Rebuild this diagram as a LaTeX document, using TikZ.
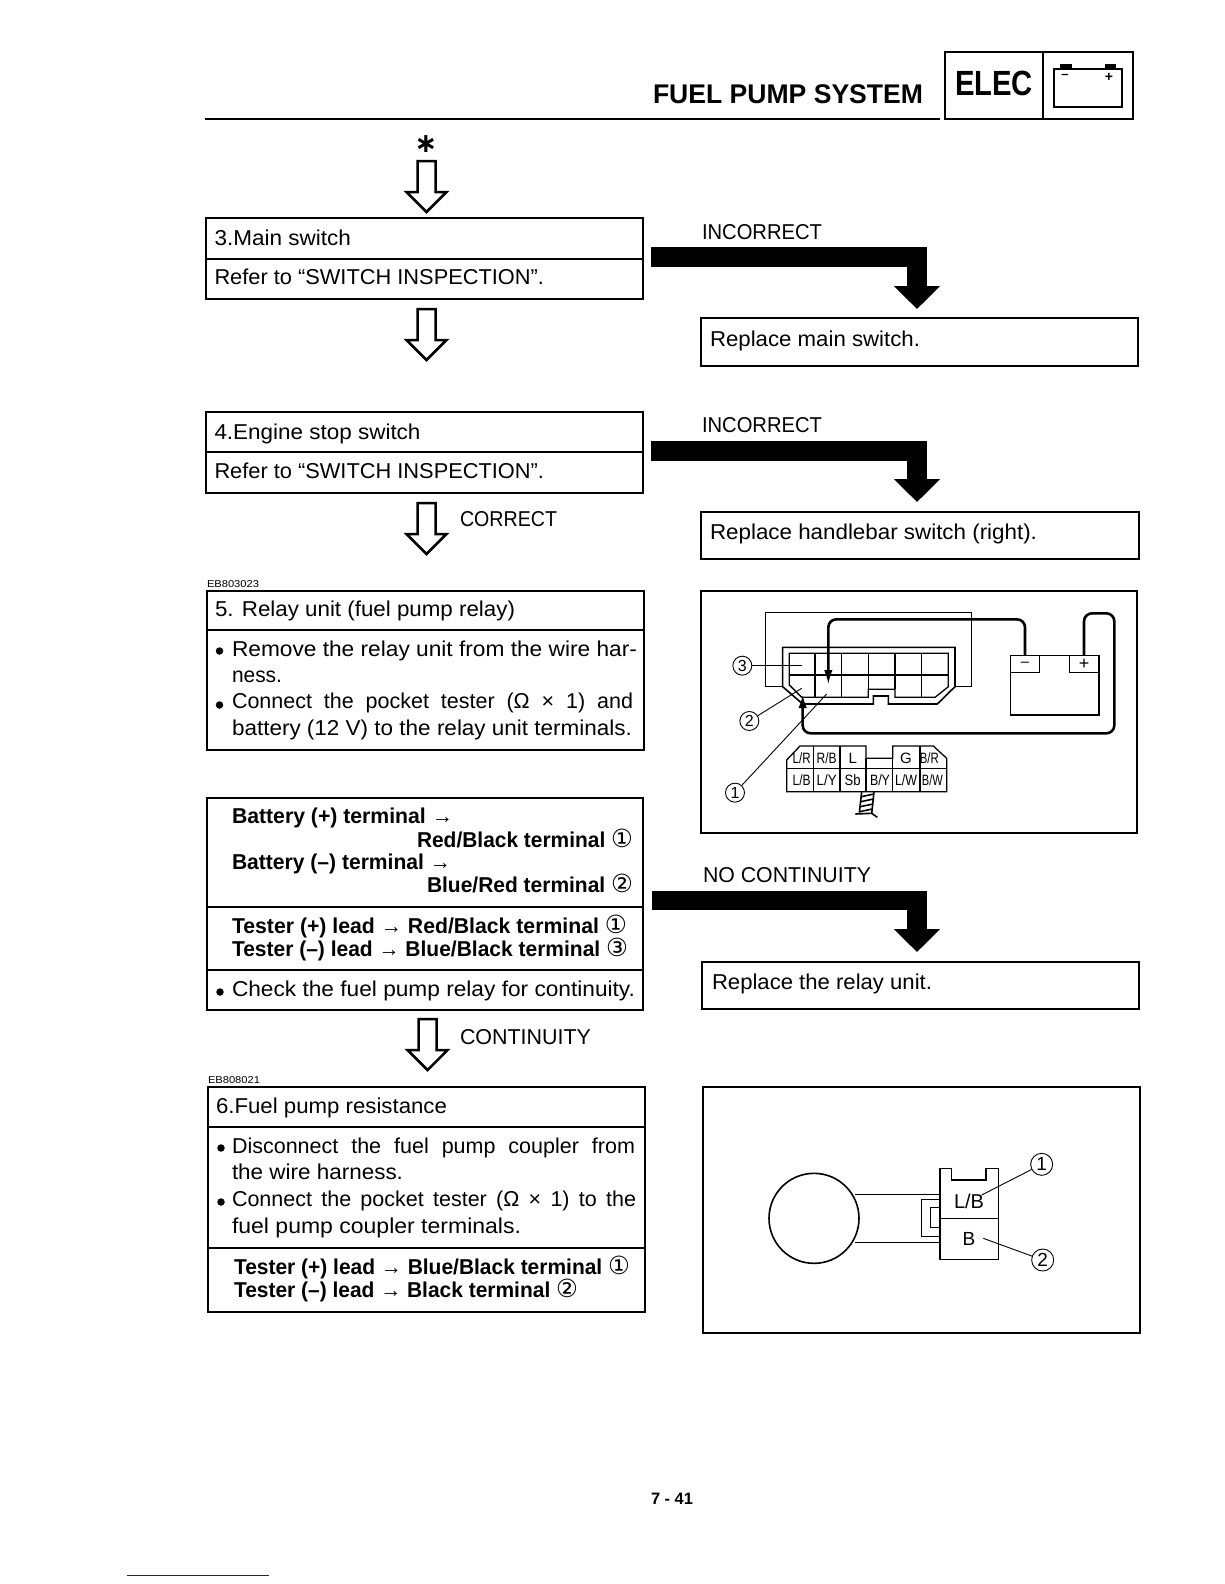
\documentclass[tikz,border=0pt]{standalone}
\usepackage{fontspec}
\usepackage{graphicx}
\setmainfont{Liberation Sans}
\newfontfamily\djv{DejaVu Sans}
\usetikzlibrary{arrows.meta}
\newcommand\ca{{\mdseries →}}
\newcommand\cdig[1]{{\mdseries\fontsize{25}{25}\selectfont\djv #1}}
\newcommand\cone{\cdig{①}}
\newcommand\ctwo{\cdig{②}}
\newcommand\cthr{\cdig{③}}
% text line fitted to a measured width: style, name, x, baseline y, width, text
\newcommand\lbl[6]{\node[#1] (#2) at (#3,#4) {\resizebox{#5pt}{\height}{#6}};}
% box from corners
\newcommand\boxn[6][boxo]{\node[#1,minimum width={(#5-#3)*1pt},minimum height={(#6-#4)*1pt}] (#2) at ({(#3+#5)/2},{(#4+#6)/2}) {};}
% divider below top of a box
\newcommand\dvd[3][divthin]{\draw[#1] ([yshift=-#3pt]#2.north west) -- ([yshift=-#3pt]#2.north east);}
% hollow block arrow
\newcommand\hollowar[3]{\coordinate (#1) at (#2,#3);
 \draw[hollow] (#1) ++(-9,0) -- ++(18,0) -- ++(0,31) -- ++(11,0) -- ++(-20,20) -- ++(-20,-20) -- ++(11,0) -- cycle;}
\tikzset{
 boxo/.style={draw=black,line width=2.6pt,inner sep=0pt,outer sep=0pt,rectangle},
 divthin/.style={line width=1.1pt,black},
 divthick/.style={line width=2.6pt,black},
 hollow/.style={draw=black,line width=2.5pt,fill=white,line join=miter},
 blockar/.style={line width=19.5pt,black,line join=miter,-{Triangle[length=23pt,width=45pt]}},
 txbase/.style={anchor=base west,inner sep=0pt,outer sep=0pt,text=black},
 txbody/.style={txbase,font=\fontsize{21.5}{25}\selectfont},
 txbold/.style={txbase,font=\fontsize{21.5}{25}\selectfont\bfseries},
 txhead/.style={txbase,font=\fontsize{27}{30}\selectfont\bfseries},
 txelec/.style={txbase,font=\fontsize{35}{38}\selectfont\bfseries},
 txtiny/.style={txbase,font=\fontsize{10}{11}\selectfont},
 txpage/.style={txbase,font=\fontsize{16.5}{19}\selectfont\bfseries},
 bul/.style={circle,fill=black,inner sep=0pt,minimum size=7.5pt},
 ccl/.style={circle,draw=black,line width=.9pt,inner sep=0pt,minimum size=19pt,font=\fontsize{16}{16}\selectfont,fill=white},
 cclb/.style={circle,draw=black,line width=.9pt,inner sep=0pt,minimum size=22pt,font=\fontsize{19}{19}\selectfont,fill=white},
 cell/.style={inner sep=0pt,font=\fontsize{15}{16}\selectfont},
 thinl/.style={line width=.9pt,black},
 medl/.style={line width=1.3pt,black},
 wire/.style={line width=2.6pt,black,rounded corners=8pt},
}
\begin{document}
\begin{tikzpicture}[x=1pt,y=-1pt]
\useasboundingbox[fill=white] (0,0) rectangle (1224,1584);

% header
\draw[line width=2.6pt] (205,119) coordinate (hl) -- (940,119) coordinate (hr);
\lbl{txhead}{thd}{653}{103}{270}{FUEL PUMP SYSTEM}
\boxn{helec}{945}{52}{1043}{119}
\boxn{hbat}{1043}{52}{1133}{119}
\lbl{txelec}{telec}{955}{96}{78}{ELEC}
\boxn[draw=black,line width=1.1pt,inner sep=0pt,outer sep=0pt]{hicon}{1054}{69}{1122}{107}
\fill (1060,64) rectangle (1072,69);
\fill (1105,64) rectangle (1116,69);
\node[inner sep=0pt,font=\fontsize{13}{14}\selectfont\bfseries] (hm) at (1065,76) {–};
\node[inner sep=0pt,font=\fontsize{14}{14}\selectfont\bfseries] (hp) at (1109,77) {+};

% left column boxes
\boxn{b3}{206}{218}{643}{299}
\dvd{b3}{41}
\boxn{b4}{206}{412}{643}{493}
\dvd{b4}{40}
\boxn{b5}{207}{591}{644}{750}
\dvd{b5}{39}
\boxn{b55}{207}{798}{643}{1010}
\dvd[divthick]{b55}{109}
\dvd[divthick]{b55}{172}
\boxn{b6}{208}{1087}{645}{1312}
\dvd{b6}{40}
\dvd[divthick]{b6}{161}

% right column boxes
\boxn{r3}{701}{318}{1138}{366}
\boxn{r4}{701}{512}{1139}{559}
\boxn{r5}{702}{962}{1139}{1009}
\boxn{im1}{701}{591}{1137}{833}
\boxn{im2}{703}{1087}{1140}{1333}

% hollow arrows
\node[inner sep=0pt,font=\fontsize{27}{27}\selectfont\bfseries\djv] (star) at (426,144) {∗};
\hollowar{ha1}{426.5}{161}
\hollowar{ha2}{426.5}{309}
\hollowar{ha3}{426.5}{503}
\hollowar{ha4}{427.5}{1019}

% black connectors
\coordinate (bs1) at (651,257);
\coordinate (be1) at (917,309);
\draw[blockar] (bs1) -| (be1);
\coordinate (bs2) at (651,451);
\coordinate (be2) at (917,502);
\draw[blockar] (bs2) -| (be2);
\coordinate (bs3) at (652,900.5);
\coordinate (be3) at (917,952);
\draw[blockar] (bs3) -| (be3);

% texts, box 3 and 4
\lbl{txbody}{t3a}{214.5}{245}{136.5}{3.Main switch}
\lbl{txbody}{t3b}{214.5}{284}{329.5}{Refer to “SWITCH INSPECTION”.}
\lbl{txbody}{t4a}{214.5}{439}{206}{4.Engine stop switch}
\lbl{txbody}{t4b}{214.5}{478}{329.5}{Refer to “SWITCH INSPECTION”.}
\lbl{txbody}{tcor}{460}{526}{97}{CORRECT}
\lbl{txbody}{tcon}{460}{1044}{131}{CONTINUITY}
\lbl{txbody}{ti1}{702}{239}{120}{INCORRECT}
\lbl{txbody}{ti2}{702}{432}{120}{INCORRECT}
\lbl{txbody}{ti3}{703}{882}{168}{NO CONTINUITY}
\lbl{txbody}{tr3}{710}{346}{210}{Replace main switch.}
\lbl{txbody}{tr4}{710}{539}{327}{Replace handlebar switch (right).}
\lbl{txbody}{tr5}{712}{989}{220}{Replace the relay unit.}

% box 5
\lbl{txtiny}{ec1}{207}{587}{52}{EB803023}
\lbl{txbody}{t5a}{215}{616}{300}{5. Relay unit (fuel pump relay)}
\node[bul] (b5a) at (219.5,651) {};
\lbl{txbody}{t5b}{232}{656}{405}{Remove the relay unit from the wire har-}
\lbl{txbody}{t5c}{232}{682}{50}{ness.}
\node[bul] (b5b) at (219.5,705) {};
\node[txbody] (t5d) at (232,708) {\makebox[401pt][s]{Connect the pocket tester (Ω × 1) and}};
\lbl{txbody}{t5e}{232}{735}{400}{battery (12 V) to the relay unit terminals.}

% box 5 specs
\lbl{txbold}{s1}{232}{823}{221}{Battery (+) terminal \ca}
\lbl{txbold}{s2}{417}{847}{216}{Red/Black terminal \cone}
\lbl{txbold}{s3}{232}{869}{219}{Battery (–) terminal \ca}
\lbl{txbold}{s4}{427}{892}{206}{Blue/Red terminal \ctwo}
\lbl{txbold}{s5}{232}{933}{395}{Tester (+) lead \ca{} Red/Black terminal \cone}
\lbl{txbold}{s6}{232}{956}{396}{Tester (–) lead \ca{} Blue/Black terminal \cthr}
\node[bul] (b55a) at (220,992) {};
\lbl{txbody}{s7}{232}{996}{403}{Check the fuel pump relay for continuity.}

% box 6
\lbl{txtiny}{ec2}{208}{1083}{52}{EB808021}
\lbl{txbody}{t6a}{216}{1113}{231}{6.Fuel pump resistance}
\node[bul] (b6a) at (221,1148) {};
\node[txbody] (t6b) at (232,1153) {\makebox[403pt][s]{Disconnect the fuel pump coupler from}};
\lbl{txbody}{t6c}{232}{1179}{171}{the wire harness.}
\node[bul] (b6b) at (221,1202) {};
\node[txbody] (t6d) at (232,1206) {\makebox[404pt][s]{Connect the pocket tester (Ω × 1) to the}};
\lbl{txbody}{t6e}{232}{1233}{289}{fuel pump coupler terminals.}
\lbl{txbold}{s8}{234}{1274}{396}{Tester (+) lead \ca{} Blue/Black terminal \cone}
\lbl{txbold}{s9}{234}{1297}{344}{Tester (–) lead \ca{} Black terminal \ctwo}

% page number and bottom rule
\lbl{txpage}{tpg}{651}{1504}{42}{7 - 41}
\draw[line width=1pt,color={rgb,255:red,20;green,30;blue,140}] (127,1575) coordinate (bl1) -- (269,1575) coordinate (bl2);

% relay diagram
\begin{scope}[shift={(700,590)},x=0.33333pt,y=-0.33333pt]
 \draw[medl] (245,290) -- (197,290) -- (197,68) -- (815,68) -- (815,290) -- (765,290);
 \draw[line width=1.6pt,fill=white] (248,172) -- (765,172) -- (765,290) -- (712,342) -- (565,342) -- (565,318) -- (520,318) -- (520,342) -- (308,342) -- (248,290) -- cycle;
 \draw[medl] (268,190) -- (745,190) -- (745,290) -- (705,322) -- (585,322) -- (585,298) -- (505,298) -- (505,322) -- (305,322) -- (268,285) -- cycle;
 \draw[medl] (268,255) -- (745,255);
 \draw[medl] (345,190) -- (345,322) (425,190) -- (425,322) (505,190) -- (505,298) (585,190) -- (585,298) (665,190) -- (665,322);
 % battery
 \draw[medl] (932,197) rectangle (1197,375);
 \node[draw=black,line width=1.3pt,minimum width=28.7pt,minimum height=16.7pt,inner sep=0pt,font=\fontsize{15}{15}\selectfont] (tm) at (975,222) {–};
 \node[draw=black,line width=1.3pt,minimum width=29.7pt,minimum height=16.7pt,inner sep=0pt,font=\fontsize{18}{18}\selectfont] (tp) at (1152,222) {+};
 % wires
 \coordinate (w1) at (385,285);
 \coordinate (w2) at (308,312);
 \draw[wire,-{Latex[length=15pt,width=8.5pt]}] (tm.north) -- (975,88) -- (385,88) -- (w1);
 \draw[wire,-{Latex[length=14pt,width=8.5pt]}] (tp.north) -- (1152,70) -- (1243,70) -- (1243,430) -- (308,430) -- (w2);
 % callouts
 \node[ccl] (c3) at (127,227) {3};
 \node[ccl] (c2) at (148,393) {2};
 \node[ccl] (c1) at (105,608) {1};
 \coordinate (p3) at (305,227);
 \coordinate (p2) at (305,295);
 \coordinate (p1) at (380,312);
 \draw[thinl] (c3) -- (p3);
 \draw[thinl] (c2) -- (p2);
 \draw[thinl] (c1) -- (p1);
 % terminal table
 \draw[medl] (260,510) -- (300,468) -- (498,468) -- (498,505) -- (578,505) -- (578,468) -- (700,468) -- (740,505) -- (740,605) -- (260,605) -- cycle;
 \draw[medl] (260,535) -- (740,535);
 \draw[medl] (340,468) -- (340,605) (420,468) -- (420,605) (498,505) -- (498,605) (578,505) -- (578,605) (660,468) -- (660,605);
 \node[cell] (ca) at (305,505) {\resizebox{18pt}{\height}{L/R}};
 \node[cell] (cb) at (380,505) {\resizebox{20pt}{\height}{R/B}};
 \node[cell] (cc) at (458,505) {L};
 \node[cell] (cd) at (618,505) {G};
 \node[cell] (ce) at (688,505) {\resizebox{19pt}{\height}{B/R}};
 \node[cell] (cf) at (305,570) {\resizebox{18pt}{\height}{L/B}};
 \node[cell] (cg) at (380,570) {\resizebox{20pt}{\height}{L/Y}};
 \node[cell] (ch) at (458,570) {\resizebox{16pt}{\height}{Sb}};
 \node[cell] (ci) at (540,570) {\resizebox{20pt}{\height}{B/Y}};
 \node[cell] (cj) at (618,570) {\resizebox{22pt}{\height}{L/W}};
 \node[cell] (ck) at (697,570) {\resizebox{21pt}{\height}{B/W}};
 % ground
 \draw[line width=1.6pt] (485,605) -- (478,668) (522,605) -- (515,672);
 \draw[line width=1.6pt] (484,620) -- (522,612) (483,635) -- (520,627) (481,650) -- (519,642) (479,665) -- (517,657);
 \draw[line width=1.6pt] (466,672) -- (515,670) -- (532,682);
\end{scope}

% pump diagram
\begin{scope}[shift={(740,1130)},x=0.33333pt,y=-0.33333pt]
 \node[circle,draw=black,line width=1.6pt,minimum size=90pt,inner sep=0pt] (pump) at (222,265) {};
 \draw[thinl] (345,192) -- (600,192) (345,338) -- (600,338);
 \draw[line width=1.3pt] (600,208) -- (545,208) -- (545,320) -- (600,320);
 \draw[thinl] (600,232) -- (570,232) -- (570,292) -- (600,292);
 \draw[line width=1.6pt] (600,115) -- (635,115) -- (635,150) -- (738,150) -- (738,115) -- (775,115) -- (775,388) -- (600,388) -- cycle;
 \draw[medl] (600,265) -- (775,265);
 \node[inner sep=0pt,font=\fontsize{20}{20}\selectfont] (lb) at (687,215) {L/B};
 \node[inner sep=0pt,font=\fontsize{19}{20}\selectfont] (bb) at (687,328) {B};
 \node[cclb] (d1) at (905,103) {1};
 \node[cclb] (d2) at (908,390) {2};
 \coordinate (q1) at (725,195);
 \coordinate (q2) at (730,325);
 \draw[thinl] (d1) -- (q1);
 \draw[thinl] (d2) -- (q2);
\end{scope}
\end{tikzpicture}
\end{document}
